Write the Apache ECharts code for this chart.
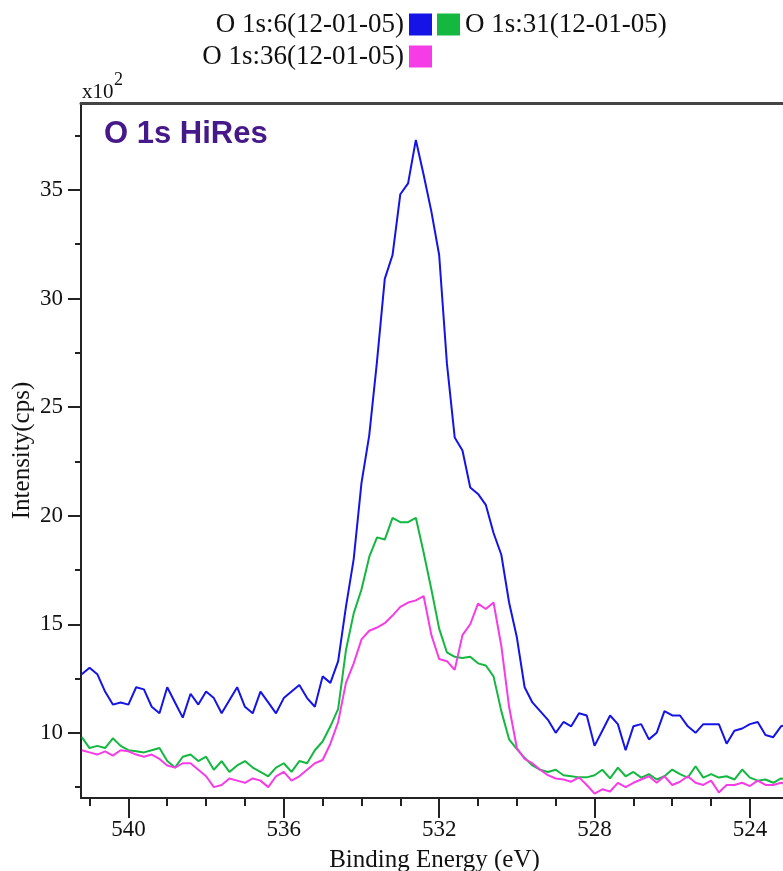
<!DOCTYPE html>
<html>
<head>
<meta charset="utf-8">
<title>O 1s HiRes</title>
<script src="https://cdn.jsdelivr.net/npm/echarts@6/dist/echarts.min.js"></script>
<style>
  html, body { margin: 0; padding: 0; background: #fff; }
  #chart { width: 783px; height: 871px; }
</style>
</head>
<body>
<div id="chart"></div>
<script>
// binding energy (eV), shared by all three scans
var energies = [
  541.2, 541.0, 540.8, 540.6, 540.4, 540.2, 540.0, 539.8, 539.6, 539.4,
  539.2, 539.0, 538.8, 538.6, 538.4, 538.2, 538.0, 537.8, 537.6, 537.4,
  537.2, 537.0, 536.8, 536.6, 536.4, 536.2, 536.0, 535.8, 535.6, 535.4,
  535.2, 535.0, 534.8, 534.6, 534.4, 534.2, 534.0, 533.8, 533.6, 533.4,
  533.2, 533.0, 532.8, 532.6, 532.4, 532.2, 532.0, 531.8, 531.6, 531.4,
  531.2, 531.0, 530.8, 530.6, 530.4, 530.2, 530.0, 529.8, 529.6, 529.4,
  529.2, 529.0, 528.8, 528.6, 528.4, 528.2, 528.0, 527.8, 527.6, 527.4,
  527.2, 527.0, 526.8, 526.6, 526.4, 526.2, 526.0, 525.8, 525.6, 525.4,
  525.2, 525.0, 524.8, 524.6, 524.4, 524.2, 524.0, 523.8, 523.6, 523.4,
  523.2, 523.0
];

// intensities in units of 10^2 cps
var scan6 = [
  12.7, 13.0, 12.7, 11.9, 11.3, 11.4, 11.3, 12.1, 12.0, 11.2,
  10.9, 12.1, 11.4, 10.7, 11.8, 11.3, 11.9, 11.6, 10.9, 11.5,
  12.1, 11.2, 10.9, 11.9, 11.4, 10.9, 11.6, 11.9, 12.2, 11.6,
  11.2, 12.6, 12.3, 13.3, 15.8, 18.0, 21.5, 23.7, 27.1, 30.9,
  32.0, 34.8, 35.3, 37.3, 35.7, 34.0, 32.0, 27.0, 23.6, 23.0,
  21.3, 21.0, 20.5, 19.2, 18.2, 16.0, 14.4, 12.1, 11.4, 11.0,
  10.6, 10.0, 10.5, 10.3, 10.9, 10.8, 9.4, 10.1, 10.8, 10.4,
  9.2, 10.3, 10.4, 9.7, 10.0, 11.0, 10.8, 10.8, 10.3, 10.0,
  10.4, 10.4, 10.4, 9.5, 10.1, 10.2, 10.4, 10.5, 9.9, 9.8,
  10.3, 10.4
];

var scan31 = [
  9.8, 9.3, 9.4, 9.3, 9.75, 9.4, 9.2, 9.15, 9.1, 9.2,
  9.3, 8.7, 8.4, 8.9, 9.0, 8.7, 8.9, 8.3, 8.7, 8.2,
  8.5, 8.7, 8.4, 8.2, 8.0, 8.4, 8.6, 8.2, 8.7, 8.6,
  9.2, 9.6, 10.3, 11.1, 13.8, 15.5, 16.6, 18.1, 19.0, 18.9,
  19.9, 19.7, 19.7, 19.9, 18.3, 16.6, 14.8, 13.7, 13.5, 13.45,
  13.5, 13.2, 13.1, 12.6, 11.0, 9.7, 9.25, 8.85, 8.5, 8.3,
  8.2, 8.3, 8.05, 8.0, 7.95, 7.95, 8.05, 8.3, 7.9, 8.4,
  8.0, 8.2, 7.94, 8.1, 7.85, 8.0, 8.31, 8.1, 7.94, 8.46,
  7.94, 8.1, 7.94, 8.0, 7.85, 8.31, 7.94, 7.8, 7.85, 7.7,
  7.9, 7.85
];

var scan36 = [
  9.2, 9.1, 9.0, 9.15, 8.95, 9.2, 9.15, 9.0, 8.9, 9.0,
  8.8, 8.5, 8.4, 8.6, 8.6, 8.3, 8.0, 7.5, 7.6, 7.9,
  7.8, 7.7, 7.9, 7.8, 7.5, 8.0, 8.2, 7.8, 8.0, 8.3,
  8.6, 8.75, 9.5, 10.5, 12.3, 13.2, 14.3, 14.7, 14.85, 15.05,
  15.4, 15.8, 16.0, 16.1, 16.3, 14.5, 13.4, 13.3, 12.9, 14.5,
  15.0, 15.95, 15.7, 16.0, 14.0, 11.2, 9.3, 8.8, 8.6, 8.3,
  8.05, 7.9, 7.85, 7.75, 7.95, 7.6, 7.2, 7.4, 7.3, 7.7,
  7.5, 7.7, 7.85, 8.0, 7.7, 8.0, 7.6, 7.75, 8.0, 7.7,
  7.6, 7.8, 7.25, 7.6, 7.6, 7.7, 7.55, 7.8, 7.6, 7.6,
  7.7, 7.6
];

var seriesNames = ['O 1s:6(12-01-05)', 'O 1s:31(12-01-05)', 'O 1s:36(12-01-05)'];
var seriesColors = ['#1414e6', '#14b840', '#f53ce6'];

var xMajorTicks = [540, 536, 532, 528, 524];
var xMinorTicks = [541, 539, 538, 537, 535, 534, 533, 531, 530, 529, 527, 526, 525, 523];
var yMajorTicks = [10, 15, 20, 25, 30, 35];
var yMinorTicks = [7.5, 12.5, 17.5, 22.5, 27.5, 32.5, 37.5];

function pairs(ys) {
  return energies.map(function (e, i) { return [e, ys[i]]; });
}

var serif = 'Liberation Serif';
var chart = echarts.init(document.getElementById('chart'));

var option = {
  animation: false,
  backgroundColor: '#fff',
  title: {
    text: 'O 1s HiRes',
    left: 99,
    top: 114,
    textStyle: { fontFamily: 'Liberation Sans', fontSize: 31, fontWeight: 'bold', color: '#45198a' }
  },
  legend: [
    {
      data: [seriesNames[0], seriesNames[2]],
      orient: 'vertical',
      align: 'right',
      right: 351,
      top: 11,
      icon: 'rect',
      itemWidth: 23,
      itemHeight: 22,
      itemGap: 5,
      padding: 0,
      textStyle: { fontFamily: serif, fontSize: 27, color: '#111' }
    },
    {
      data: [seriesNames[1]],
      orient: 'vertical',
      align: 'left',
      left: 437,
      top: 11,
      icon: 'rect',
      itemWidth: 23,
      itemHeight: 22,
      padding: 0,
      textStyle: { fontFamily: serif, fontSize: 27, color: '#111' }
    }
  ],
  graphic: [
    { type: 'text', left: 82, top: 82, style: { text: 'x10', font: '21px "Liberation Serif"', fill: '#111' } },
    { type: 'text', left: 114, top: 71, style: { text: '2', font: '18px "Liberation Serif"', fill: '#111' } }
  ],
  // keep the plot box fixed even though the axis name sits near the bottom edge
  grid: { left: 81, right: -5, top: 103, bottom: 73, outerBoundsMode: 'none' },
  xAxis: [
    {
      type: 'value',
      position: 'bottom',
      min: 523.02,
      max: 541.22,
      inverse: true,
      name: 'Binding Energy (eV)',
      nameLocation: 'middle',
      nameGap: 50,
      nameTextStyle: { fontFamily: serif, fontSize: 25, color: '#111' },
      axisLine: { lineStyle: { color: '#222', width: 2 } },
      axisTick: { customValues: xMajorTicks, length: 20, lineStyle: { color: '#222', width: 2 } },
      axisLabel: { customValues: xMajorTicks, margin: 20, fontFamily: serif, fontSize: 23, color: '#111' },
      splitLine: { show: false }
    },
    {
      type: 'value',
      position: 'bottom',
      min: 523.02,
      max: 541.22,
      inverse: true,
      axisLine: { show: false },
      axisTick: { customValues: xMinorTicks, length: 8, lineStyle: { color: '#222', width: 2 } },
      axisLabel: { show: false },
      splitLine: { show: false }
    },
    {
      type: 'value',
      position: 'top',
      min: 523.02,
      max: 541.22,
      inverse: true,
      axisLine: { lineStyle: { color: '#444', width: 3 } },
      axisTick: { show: false },
      axisLabel: { show: false },
      splitLine: { show: false }
    }
  ],
  yAxis: [
    {
      type: 'value',
      position: 'left',
      min: 7,
      max: 39,
      name: 'Intensity(cps)',
      nameLocation: 'middle',
      nameGap: 46,
      nameMoveOverlap: false,
      nameTextStyle: { fontFamily: serif, fontSize: 25, color: '#111' },
      axisLine: { show: true, lineStyle: { color: '#222', width: 2 } },
      axisTick: { show: true, customValues: yMajorTicks, length: 13, lineStyle: { color: '#222', width: 2 } },
      axisLabel: { customValues: yMajorTicks, margin: 18, fontFamily: serif, fontSize: 23, color: '#111' },
      splitLine: { show: false }
    },
    {
      type: 'value',
      position: 'left',
      min: 7,
      max: 39,
      axisLine: { show: false },
      axisTick: { show: true, customValues: yMinorTicks, length: 6, lineStyle: { color: '#222', width: 2 } },
      axisLabel: { show: false },
      splitLine: { show: false }
    }
  ],
  series: [scan6, scan31, scan36].map(function (ys, i) {
    return {
      name: seriesNames[i],
      type: 'line',
      data: pairs(ys),
      showSymbol: false,
      itemStyle: { color: seriesColors[i] },
      lineStyle: { color: seriesColors[i], width: 2 }
    };
  })
};

chart.setOption(option);
</script>
</body>
</html>
